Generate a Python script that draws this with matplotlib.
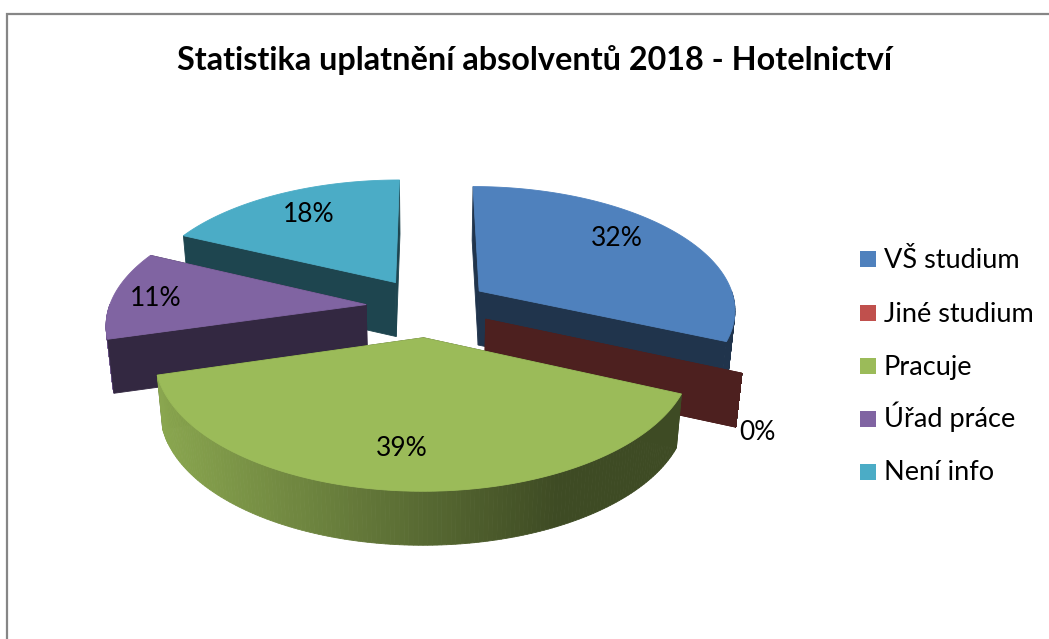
import numpy as np
import matplotlib
matplotlib.use('Agg')
import matplotlib.pyplot as plt
from matplotlib.patches import Rectangle

# Chart data
title = 'Statistika uplatnění absolventů 2018 - Hotelnictví'
categories = ['VŠ studium', 'Jiné studium', 'Pracuje', 'Úřad práce', 'Není info']
shares = [31.6, 0, 39, 11.4, 18]
labels = ['32%', '0%', '39%', '11%', '18%']

# Styling
colors = ['#4f81bd', '#c0504d', '#9bbb59', '#8064a2', '#4bacc6']
label_pos = [(617, 238), (757, 432), (402, 448), (156, 298), (309, 214)]
legend_y = [259, 313, 366, 419, 472]
draw_order = [4, 3, 0, 1, 2]  # back to front

# Projection of the tilted pie, in pixels
x0, y0 = 428, 307
rad_x, rad_y = 257, 123
persp = 0.138
explode = 0.242
depth = 54
shrink = 0.98  # lower rim is a bit narrower than the top one


def project(px, py):
    f = 1 / (1 + persp * py)
    return x0 + rad_x * px * f, y0 - rad_y * py * f


def lower(x, y):
    return x0 + (x - x0) * shrink, y + depth


def shade(color, factor):
    rgb = np.array(matplotlib.colors.to_rgb(color))
    return tuple(rgb * factor)


def side_factor(x):
    # light on the left of the rim, dark on the right
    return np.clip(0.89 - 0.49 * (x - 158) / 400, 0.40, 0.89)


def radial_wall(ax, cx, cy, ex, ey, color, z):
    b1 = lower(cx, cy)
    b2 = lower(ex, ey)
    ax.fill([cx, ex, b2[0], b1[0]], [cy, ey, b2[1], b1[1]], color=color, lw=0.6, zorder=z)


fig = plt.figure(figsize=(10.49, 6.39), dpi=100)
ax = fig.add_axes([0, 0, 1, 1])
ax.set_xlim(0, 1049)
ax.set_ylim(639, 0)
ax.axis('off')
plt.rcParams['font.family'] = ['Lato', 'DejaVu Sans']

# Frame of the chart area (cut off on the right and at the bottom)
ax.plot([7, 7, 1049], [639, 14, 14], color='#868686', lw=1.6, solid_joinstyle='miter')

total = sum(shares)
ends = np.cumsum(shares) / total * 2 * np.pi
starts = ends - np.array(shares) / total * 2 * np.pi

for i in draw_order:
    t1, t2 = starts[i], ends[i]
    mid = (t1 + t2) / 2
    ox, oy = explode * np.sin(mid), explode * np.cos(mid)
    theta = np.linspace(t1, t2, 160)
    rim_x, rim_y = project(ox + np.sin(theta), oy + np.cos(theta))
    cx, cy = project(ox, oy)
    color = colors[i]
    dark = shade(color, 0.40)
    z = 2 + draw_order.index(i)

    # Radial walls turned away from the viewer go first
    start_front = np.sin(t1) < 0
    end_front = np.sin(t2) > 0
    if not start_front:
        radial_wall(ax, cx, cy, rim_x[0], rim_y[0], dark, z)
    if not end_front:
        radial_wall(ax, cx, cy, rim_x[-1], rim_y[-1], dark, z)

    # Outer wall, only the part facing the viewer, strip by strip for the shading
    for j in range(len(theta) - 1):
        if np.cos(theta[j]) > 0:
            continue
        xs = [rim_x[j], rim_x[j + 1]]
        ys = [rim_y[j], rim_y[j + 1]]
        bx, by = lower(np.array(xs), np.array(ys))
        c = shade(color, side_factor((xs[0] + xs[1]) / 2))
        ax.fill([xs[0], xs[1], bx[1], bx[0]], [ys[0], ys[1], by[1], by[0]],
                color=c, lw=0.6, zorder=z)

    # Radial walls facing the viewer
    if start_front:
        radial_wall(ax, cx, cy, rim_x[0], rim_y[0], dark, z)
    if end_front:
        radial_wall(ax, cx, cy, rim_x[-1], rim_y[-1], dark, z)

    # Top face
    if shares[i] > 0:
        ax.fill(np.r_[cx, rim_x], np.r_[cy, rim_y], color=color, lw=0.6, zorder=z)

# Data labels
for text, (lx, ly) in zip(labels, label_pos):
    ax.text(lx, ly, text, fontsize=19, color='black', ha='center', va='center', zorder=20)

# Title
ax.text(535, 60, title, fontsize=23.3, fontweight='bold', color='black',
        ha='center', va='center', zorder=20)

# Legend, placed by hand so the rows stay evenly spaced
for name, c, ly in zip(categories, colors, legend_y):
    ax.add_patch(Rectangle((860, ly - 8), 16, 16, facecolor=c, edgecolor='none', zorder=20))
    ax.text(884, ly + 8.5, name, fontsize=19.5, color='black', ha='left', va='baseline', zorder=20)

fig.savefig('out.png', dpi=100, facecolor='white')
